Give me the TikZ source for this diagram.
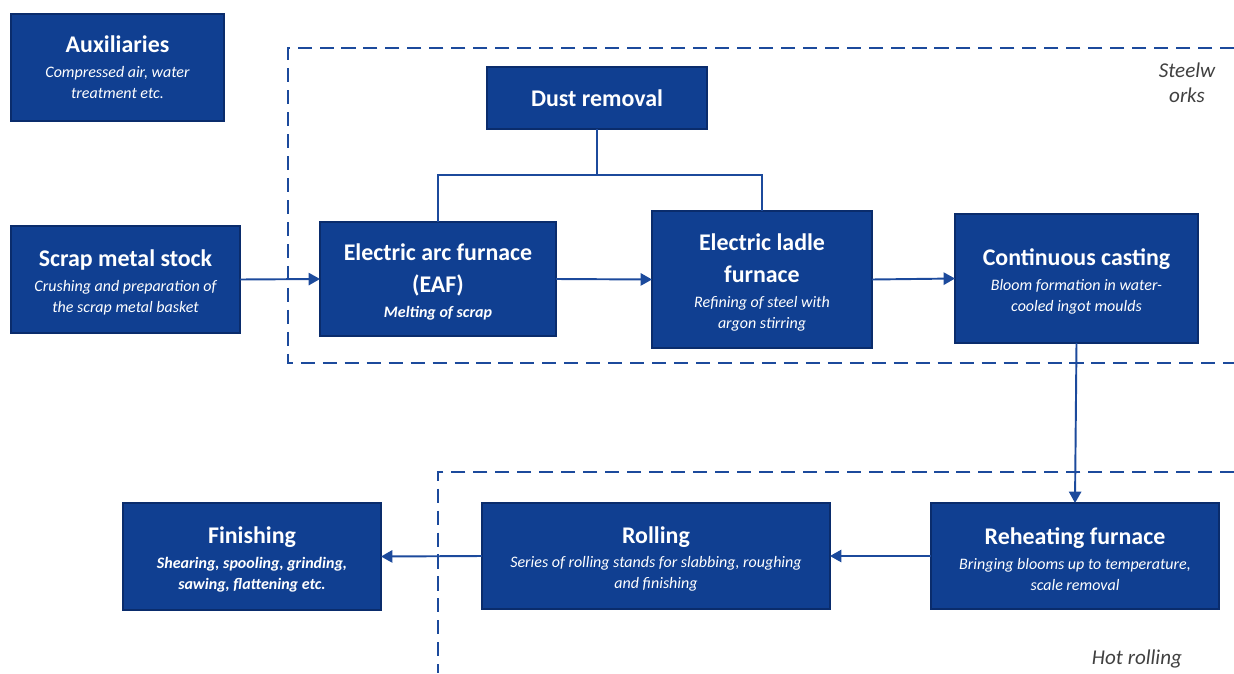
\documentclass[tikz,border=0pt]{standalone}
\usepackage{fontspec}
\setmainfont{Carlito}
\usetikzlibrary{arrows.meta}

\definecolor{stagefill}{RGB}{16,63,145}
\definecolor{stageedge}{RGB}{10,44,108}
\definecolor{flowblue}{RGB}{28,74,156}
\definecolor{areagrey}{RGB}{64,64,64}

\newcommand\stagehead[1]{{\fontsize{13.6}{16}\selectfont\bfseries\upshape #1}}
% pushes the text block a little below the box centre
\newcommand\stagetop{\rule{0pt}{13pt}}

\begin{document}
\begin{tikzpicture}[
		x=0.02cm, y=-0.02cm,
		stage/.style = {
			draw=stageedge, fill=stagefill, line width=0.8pt,
			rectangle, text=white, align=center,
			font=\fontsize{9.1}{12}\selectfont\itshape,
			outer sep=0cm, inner sep=0cm
		},
		flow/.style = {draw=flowblue, line width=1.1pt, -{Triangle[length=6.5pt,width=7pt]}},
		link/.style = {draw=flowblue, line width=1.1pt},
		area/.style = {draw=flowblue, line width=1.4pt, dash pattern=on 8pt off 4.5pt},
		arealabel/.style = {text=areagrey, font=\fontsize{12}{14}\selectfont\itshape, align=center}
		]
		\useasboundingbox (0,0) rectangle (1234,673);

		% process areas
		\draw[area] (1234,48) -- (288,48) -- (288,363) -- (1234,363);
		\draw[area] (1234,472) -- (438,472) -- (438,673);
		\node[arealabel] (steelworks) at (1187,83) {Steelw\\orks};
		\node[arealabel] (hotrolling) at (1137,659) {Hot rolling};

		% stages
		\node[stage, minimum width=4.26cm, minimum height=2.14cm] (aux) at (117.5,67.5)
			{\stagehead{Auxiliaries}\\[2pt] Compressed air, water\\ treatment etc.};
		\node[stage, minimum width=4.58cm, minimum height=2.14cm] (scrap) at (125.5,279.5)
			{\stagetop\stagehead{Scrap metal stock}\\[2pt] Crushing and preparation of\\ the scrap metal basket};
		\node[stage, minimum width=4.40cm, minimum height=1.24cm] (dust) at (597,98)
			{\stagehead{Dust removal}};
		\node[stage, minimum width=4.72cm, minimum height=2.28cm] (eaf) at (438,279)
			{\stagetop\stagehead{Electric arc furnace}\\[6pt] \stagehead{(EAF)}\\[2pt] \textbf{Melting of scrap}};
		\node[stage, minimum width=4.40cm, minimum height=2.74cm] (ladle) at (762,279.5)
			{\stagetop\stagehead{Electric ladle}\\[6pt] \stagehead{furnace}\\[2pt] Refining of steel with\\ argon stirring};
		\node[stage, minimum width=4.86cm, minimum height=2.58cm] (cast) at (1076.5,278.5)
			{\stagetop\stagehead{Continuous casting}\\[2pt] Bloom formation in water-\\ cooled ingot moulds};
		\node[stage, minimum width=5.76cm, minimum height=2.12cm] (reheat) at (1075,556)
			{\stagetop\stagehead{Reheating furnace}\\[2pt] Bringing blooms up to temperature,\\ scale removal};
		\node[stage, minimum width=6.96cm, minimum height=2.12cm] (rolling) at (656,556)
			{\stagetop\stagehead{Rolling}\\[2pt] Series of rolling stands for slabbing, roughing\\ and finishing};
		\node[stage, minimum width=5.16cm, minimum height=2.14cm] (finish) at (252,556.5)
			{\stagetop\stagehead{Finishing}\\[2pt] \textbf{Shearing, spooling, grinding,}\\ \textbf{sawing, flattening etc.}};

		% dust extraction lines
		\coordinate (split) at (597,175);
		\draw[link] (dust.south) -- (split);
		\draw[link] (eaf.north) -- (eaf.north |- split) -- (ladle.north |- split) -- (ladle.north);

		% material flow
		\draw[flow] (scrap.east) -- (eaf.west);
		\draw[flow] (eaf.east) -- (ladle.west);
		\draw[flow] (ladle.east) -- (cast.west);
		\draw[flow] (cast.south) -- (reheat.north);
		\draw[flow] (reheat.west) -- (rolling.east);
		\draw[flow] (rolling.west) -- (finish.east);
	\end{tikzpicture}
\end{document}
